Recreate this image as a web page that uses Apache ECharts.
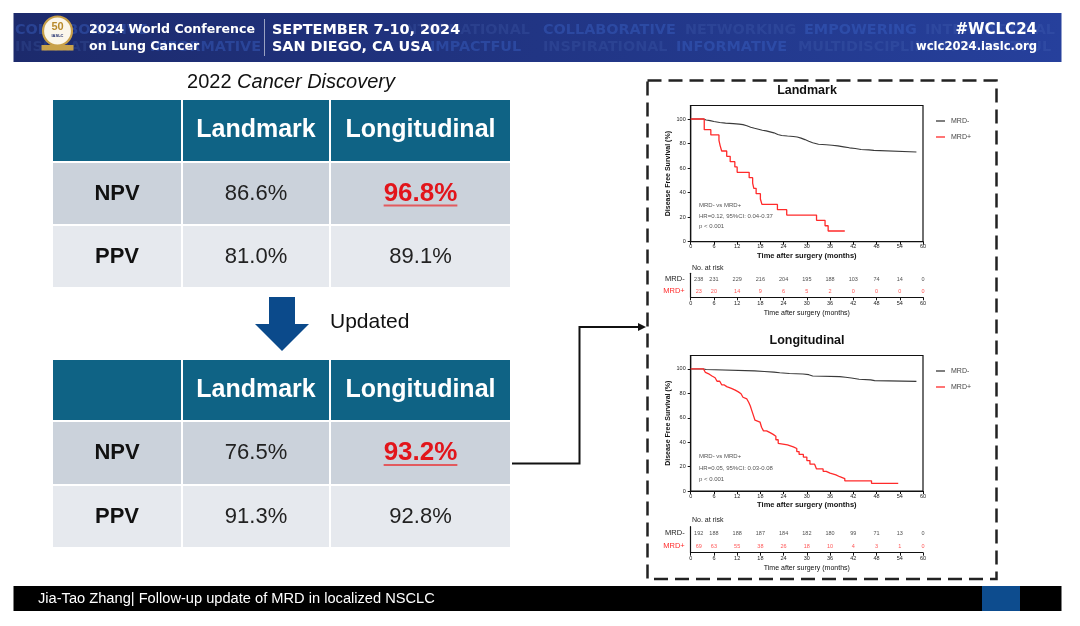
<!DOCTYPE html>
<html><head><meta charset="utf-8">
<script src="https://cdn.jsdelivr.net/npm/echarts@6/dist/echarts.min.js"></script>
<style>html,body{margin:0;padding:0;background:#fff}#c{width:1080px;height:626px}</style>
</head><body><div id="c"></div>
<script>
// ---------------- DATA ----------------
const tableCols = ['Landmark', 'Longitudinal'];
const tableRows = ['NPV', 'PPV'];
const table2022 = [[86.6, 96.8], [81.0, 89.1]];
const tableUpdated = [[76.5, 93.2], [91.3, 92.8]];

const groups = ['MRD-', 'MRD+'];
const kmTicksY = [0, 20, 40, 60, 80, 100];

// Landmark KM curves [months, DFS %]
const lmNeg = [[0,100],[3.3,100],[3.4,99.2],[4.0,98.7],[5.0,97.9],[6.0,97.1],[7.5,96.6],[9.0,96.2],[11.0,95.8],[12.5,95.4],[13.5,94.5],[14.5,93.3],[15.5,92.4],[16.5,91.6],[17.5,90.8],[18.5,90.3],[19.5,89.5],[20.5,88.7],[21.5,87.4],[22.5,86.6],[23.5,86.1],[25.0,85.7],[26.5,85.3],[27.5,84.4],[28.5,83.2],[29.5,81.9],[30.5,80.7],[31.5,79.4],[33.0,79.0],[35.0,78.6],[36.5,78.1],[38.0,77.3],[39.5,76.5],[41.0,76.0],[42.5,75.2],[44.0,74.8],[46.0,74.4],[47.3,73.1],[58.3,73.1]];
const lmPos = [[0,100],[3.5,100],[3.5,91.3],[5.2,87.0],[7.3,82.6],[7.6,78.3],[8.0,73.9],[9.3,69.6],[10.2,65.2],[11.4,60.9],[12.0,56.5],[15.1,52.2],[16.0,47.8],[16.3,43.5],[16.9,39.1],[18.0,34.8],[18.4,30.4],[22.4,26.1],[24.8,21.7],[32.5,17.4],[34.7,13.0],[35.5,8.7],[39.8,8.7]];

// Longitudinal KM curves
const lgNeg = [[0,100],[3.3,100],[3.4,99.5],[4.0,98.4],[16.5,97.9],[19.0,97.4],[21.5,96.9],[23.0,96.3],[25.5,95.8],[29.0,95.3],[30.5,94.2],[31.5,93.7],[38.5,93.2],[40.0,92.6],[41.5,91.6],[43.5,91.0],[46.5,90.4],[47.5,89.8],[58.3,89.8]];
const lgPos = [[0,100],[3.3,100],[3.3,98.6],[3.8,97.1],[4.3,95.7],[4.8,94.2],[5.5,92.8],[6.3,91.3],[6.8,89.9],[7.5,88.4],[8.0,87.0],[8.6,85.5],[9.3,84.1],[10.5,82.6],[11.5,81.2],[12.3,79.7],[13.0,78.3],[13.5,76.8],[14.0,75.4],[14.5,73.9],[15.0,72.5],[15.4,69.6],[15.7,66.7],[16.0,63.8],[16.3,60.9],[16.6,58.0],[17.0,56.5],[17.9,55.1],[18.3,52.2],[18.8,49.3],[19.6,47.8],[20.5,46.4],[21.3,44.9],[22.0,42.0],[22.6,39.1],[23.1,37.7],[25.0,36.2],[26.5,34.8],[27.4,32.3],[28.0,30.0],[29.1,27.8],[30.0,24.9],[30.8,22.0],[32.0,20.5],[32.5,18.1],[34.2,16.1],[35.0,14.6],[36.0,13.2],[37.5,11.7],[38.5,10.2],[39.8,8.3],[46.7,6.3],[53.6,6.3]];

// Number at risk
const riskTimes = [0, 6, 12, 18, 24, 30, 36, 42, 48, 54, 60];
const lmRiskNeg = [238, 231, 229, 216, 204, 195, 188, 103, 74, 14, 0];
const lmRiskPos = [23, 20, 14, 9, 6, 5, 2, 0, 0, 0, 0];
const lgRiskNeg = [192, 188, 188, 187, 184, 182, 180, 99, 71, 13, 0];
const lgRiskPos = [69, 63, 55, 38, 26, 18, 10, 4, 3, 1, 0];

const lmStats = ['MRD- vs MRD+', 'HR=0.12, 95%CI: 0.04-0.37', 'p < 0.001'];
const lgStats = ['MRD- vs MRD+', 'HR=0.05, 95%CI: 0.03-0.08', 'p < 0.001'];

// ---------------- STYLE / LAYOUT ----------------
const SANS = '"Liberation Sans", Arial, sans-serif';
const DJ = '"DejaVu Sans", sans-serif';
const BLACK = '#3a3a3a', RED = '#ff2a2a';
const G = [];
let zc = 1;
function rect(x, y, w, h, fill, extra) {
  G.push(Object.assign({ type: 'rect', silent: true, z: zc++, shape: { x, y, width: w, height: h }, style: { fill } }, extra || {}));
}
function text(x, y, t, font, fill, align, extra) {
  G.push({ type: 'text', silent: true, z: zc++, style: Object.assign({ x, y, text: t, font, fill,
    align: align || 'left', verticalAlign: 'middle', textAlign: align || 'left', textVerticalAlign: 'middle' }, extra || {}) });
}
function line(pts, stroke, lw, dash) {
  G.push({ type: 'polyline', silent: true, z: zc++, shape: { points: pts }, style: { stroke, lineWidth: lw, fill: null, lineDash: dash || null } });
}
function poly(pts, fill) {
  G.push({ type: 'polygon', silent: true, z: zc++, shape: { points: pts }, style: { fill } });
}
const mctx = document.createElement('canvas').getContext('2d');
function measure(t, font) { mctx.font = font; return mctx.measureText(t).width; }

// Header band
G.push({ type: 'rect', silent: true, z: zc++, shape: { x: 13.5, y: 13, width: 1048, height: 49 },
  style: { fill: new echarts.graphic.LinearGradient(0, 0, 1, 0, [{ offset: 0, color: '#1c2a6c' }, { offset: 1, color: '#26409c' }]) } });
const bgWordFont = 'bold 14.4px ' + DJ;
const strong = 'rgba(60,100,200,0.42)', faint = 'rgba(90,120,200,0.18)';
[['COLLABORATIVE', 15, 30, strong], ['INTERNATIONAL', 400, 30, faint], ['COLLABORATIVE', 543, 30, strong],
 ['NETWORKING', 685, 30, faint], ['EMPOWERING', 804, 30, strong], ['INTERNATIONAL', 925, 30, faint],
 ['INSPIRATIONAL', 15, 47, faint], ['INFORMATIVE', 150, 47, strong], ['IMPACTFUL', 430, 47, strong],
 ['INSPIRATIONAL', 543, 47, faint], ['INFORMATIVE', 676, 47, strong], ['MULTIDISCIPLINARY', 798, 47, faint],
 ['IMPACTFUL', 960, 47, faint]].forEach(w => text(w[1], w[2], w[0], bgWordFont, w[3]));
// logo
G.push({ type: 'circle', silent: true, z: zc++, shape: { cx: 57.5, cy: 31, r: 14.5 }, style: { fill: '#fbf6ea', stroke: '#c8a04a', lineWidth: 2.2 } });
text(57.5, 27, '50', 'bold 11px ' + SANS, '#b88a2c', 'center');
text(57.5, 36, 'IASLC', 'bold 4px ' + SANS, '#1c2a6c', 'center');
rect(41.5, 45, 32, 5.5, '#c9a24a');
line([[264.5, 19], [264.5, 56]], 'rgba(255,255,255,0.55)', 1);
text(89, 30, '2024 World Conference', 'bold 12.6px ' + DJ, '#ffffff');
text(89, 47, 'on Lung Cancer', 'bold 12.6px ' + DJ, '#ffffff');
text(272, 30, 'SEPTEMBER 7-10, 2024', 'bold 14.4px ' + DJ, '#ffffff');
text(272, 47, 'SAN DIEGO, CA USA', 'bold 14.4px ' + DJ, '#ffffff');
text(1037, 30, '#WCLC24', 'bold 15px ' + DJ, '#ffffff', 'right');
text(1037, 47, 'wclc2024.iaslc.org', 'bold 11.6px ' + DJ, '#ffffff', 'right');

// Footer
rect(13.5, 586, 1048, 25, '#000000');
rect(982, 586, 38, 25, '#0d4c8e');
const footTxt = 'Jia-Tao Zhang| Follow-up update of MRD in localized NSCLC';
const footFam = '"Liberation Sans Narrow", "Arial Narrow", "Liberation Sans", sans-serif';
const footSize = Math.min(15, 100 * 397 / measure(footTxt, '100px ' + footFam));
text(38, 599, footTxt, footSize.toFixed(2) + 'px ' + footFam, '#ffffff');

// Tables
const colX = [52, 182, 330, 511];
function drawTable(rowY, vals) {
  const fills = ['#0f6385', '#cbd2db', '#e6e9ee'];
  for (let r = 0; r < 3; r++) for (let c = 0; c < 3; c++)
    rect(colX[c] + 1, rowY[r] + 1, colX[c + 1] - colX[c] - 2, rowY[r + 1] - rowY[r] - 2, fills[r]);
  const cx = c => (colX[c] + colX[c + 1]) / 2, cy = r => (rowY[r] + rowY[r + 1]) / 2;
  tableCols.forEach((t, i) => text(cx(i + 1), cy(0), t, 'bold 25px ' + SANS, '#ffffff', 'center'));
  tableRows.forEach((t, r) => {
    text(cx(0), cy(r + 1), t, 'bold 22px ' + SANS, '#111111', 'center');
    vals[r].forEach((v, c) => {
      const s = v.toFixed(1) + '%';
      if (r === 0 && c === 1) {
        const f = 'bold 26px ' + SANS;
        text(cx(c + 1), cy(r + 1), s, f, '#e2151b', 'center');
        const w = measure(s, f);
        line([[cx(c + 1) - w / 2, cy(r + 1) + 12], [cx(c + 1) + w / 2, cy(r + 1) + 12]], '#e25a5e', 2);
      } else {
        text(cx(c + 1), cy(r + 1), s, '22px ' + SANS, '#222222', 'center');
      }
    });
  });
}
text(291, 82, '{a|2022 }{b|Cancer Discovery}', '20px ' + SANS, '#111', 'center',
  { rich: { a: { font: '20px ' + SANS, fill: '#111' }, b: { font: 'italic 20px ' + SANS, fill: '#111' } } });
drawTable([99, 162, 225, 288], table2022);
poly([[269, 297], [295, 297], [295, 324], [309, 324], [282, 351], [255, 324], [269, 324]], '#0b4a8b');
text(330, 322, 'Updated', '21px ' + SANS, '#111', 'left');
drawTable([359, 421, 485, 548], tableUpdated);

// Connector
line([[512, 463.5], [579.5, 463.5], [579.5, 327], [641, 327]], '#111', 2);
poly([[638, 323], [646, 327], [638, 331]], '#111');

// Dashed frame
G.push({ type: 'rect', silent: true, z: zc++, shape: { x: 647.5, y: 80.5, width: 349, height: 498.5 },
  style: { fill: null, stroke: '#222', lineWidth: 2.5, lineDash: [14, 7] } });

// KM titles, stats, no-at-risk headings
text(807, 91, 'Landmark', 'bold 12.5px ' + SANS, '#111', 'center');
text(807, 341, 'Longitudinal', 'bold 12.5px ' + SANS, '#111', 'center');
lmStats.forEach((t, i) => text(699, 205.3 + i * 10.7, t, '6px ' + SANS, '#555'));
lgStats.forEach((t, i) => text(699, 456.7 + i * 11.5, t, '6px ' + SANS, '#555'));
text(692, 268, 'No. at risk', '7px ' + SANS, '#222');
text(692, 520, 'No. at risk', '7px ' + SANS, '#222');

// ---------------- CHART ----------------
const PL = 690.7, PW = 232.3;
const axLine = { show: true, lineStyle: { color: '#111', width: 1.2 } };
function kmX(g) {
  return { type: 'value', gridIndex: g, min: 0, max: 60, interval: 6, axisLine: axLine,
    axisTick: { show: true, length: 3, lineStyle: { color: '#111', width: 1 } },
    axisLabel: { fontSize: 5.5, margin: 2, color: '#222', fontFamily: SANS }, splitLine: { show: false },
    name: 'Time after surgery (months)', nameLocation: 'middle', nameGap: 10,
    nameTextStyle: { fontSize: 7.5, fontWeight: 'bold', color: '#111', fontFamily: SANS } };
}
function kmY(g) {
  return { type: 'value', gridIndex: g, min: 0, max: 111, interval: 20, axisLine: axLine,
    axisTick: { show: true, length: 3, customValues: kmTicksY, lineStyle: { color: '#111', width: 1 } },
    axisLabel: { fontSize: 5.5, margin: 5, color: '#222', customValues: kmTicksY, fontFamily: SANS },
    splitLine: { show: false },
    name: 'Disease Free Survival (%)', nameLocation: 'middle', nameRotate: 90, nameGap: 19,
    nameTextStyle: { fontSize: 7, fontWeight: 'bold', color: '#111', fontFamily: SANS } };
}
function riskX(g) {
  return { type: 'value', gridIndex: g, min: 0, max: 60, interval: 6, axisLine: axLine,
    axisTick: { show: true, length: 3, lineStyle: { color: '#111', width: 1 } },
    axisLabel: { fontSize: 5.5, margin: 3, color: '#222', fontFamily: SANS }, splitLine: { show: false },
    name: 'Time after surgery (months)', nameLocation: 'middle', nameGap: 12,
    nameTextStyle: { fontSize: 7, color: '#111', fontFamily: SANS } };
}
function riskY(g) {
  return { type: 'category', gridIndex: g, data: ['MRD+', 'MRD-'], axisLine: axLine, axisTick: { show: false },
    axisLabel: { fontSize: 7.5, margin: 6, fontFamily: SANS, color: (v) => v === 'MRD+' ? RED : '#222' } };
}
function kmLine(name, data, g, color, w) {
  return { type: 'line', name, data, xAxisIndex: g, yAxisIndex: g, step: 'end', showSymbol: false, symbol: 'none',
    itemStyle: { color }, lineStyle: { color, width: w }, silent: true };
}
function riskSeries(id, g, row, counts, color) {
  return { type: 'scatter', name: id, xAxisIndex: g, yAxisIndex: g, symbolSize: 0, silent: true,
    data: riskTimes.map((t, i) => ({ value: [t, row, counts[i]], label: i === 0 ? { offset: [8, 0] } : undefined })),
    label: { show: true, position: 'inside', formatter: p => String(p.value[2]), fontSize: 5.5, color, fontFamily: SANS } };
}
function legendAt(top) {
  return { data: groups.map(n => ({ name: n, icon: 'rect' })), orient: 'vertical', left: 931, top,
    itemWidth: 9, itemHeight: 1.3, itemGap: 8, selectedMode: false,
    textStyle: { fontSize: 7, lineHeight: 8, color: '#444', fontFamily: SANS, padding: [0, 0, 0, 1] } };
}

const option = {
  animation: false,
  backgroundColor: '#ffffff',
  grid: [
    { left: PL, top: 105.5, width: PW, height: 136.2, show: true, borderColor: '#111', borderWidth: 1.2 },
    { left: PL, top: 355.5, width: PW, height: 135.5, show: true, borderColor: '#111', borderWidth: 1.2 },
    { left: PL, top: 273.3, width: PW, height: 24 },
    { left: PL, top: 526.7, width: PW, height: 26 }
  ],
  xAxis: [kmX(0), kmX(1), riskX(2), riskX(3)],
  yAxis: [kmY(0), kmY(1), riskY(2), riskY(3)],
  legend: [legendAt(112), legendAt(362)],
  series: [
    kmLine(groups[0], lmNeg, 0, BLACK, 1.1),
    kmLine(groups[1], lmPos, 0, RED, 1.3),
    kmLine(groups[0], lgNeg, 1, BLACK, 1.1),
    kmLine(groups[1], lgPos, 1, RED, 1.3),
    riskSeries('lmRiskNeg', 2, 'MRD-', lmRiskNeg, '#222'),
    riskSeries('lmRiskPos', 2, 'MRD+', lmRiskPos, RED),
    riskSeries('lgRiskNeg', 3, 'MRD-', lgRiskNeg, '#222'),
    riskSeries('lgRiskPos', 3, 'MRD+', lgRiskPos, RED)
  ],
  graphic: { elements: G }
};
const chart = echarts.init(document.getElementById('c'), null, { renderer: 'canvas', width: 1080, height: 626 });
chart.setOption(option);
</script></body></html>
